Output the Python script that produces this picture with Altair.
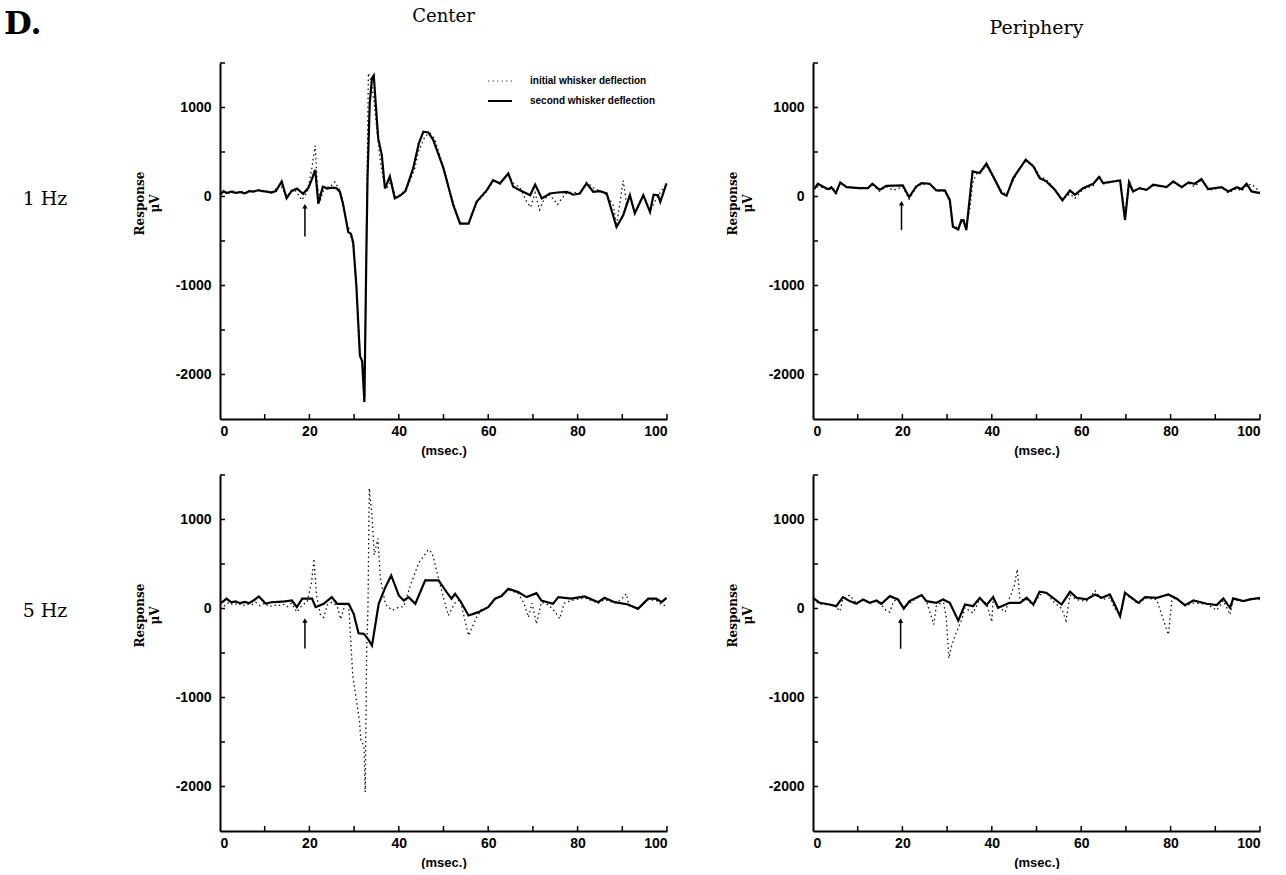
import altair as alt
import pandas as pd

# ---------------- data ----------------
# 1 Hz, Center
c1_sec_t = [0, 0.8, 1.5, 2.5, 3.5, 4.5, 5.5, 6.5, 7.5, 8.5, 9.5, 10.5, 11.5, 12.5, 13.8, 14.9, 16, 17.2, 18.6,
            19.8, 20.6, 21.3, 22, 23, 24, 25, 26, 26.8, 27.5, 28, 28.7, 29.3, 29.8, 30.5, 31.3, 31.8, 32.3, 32.7,
            33.0, 33.5, 34.0, 34.4, 34.9, 35.4, 36.2, 36.9, 38, 39.1, 40.3, 41.5, 43.2, 44.5, 45.5, 46.6, 47.7, 50,
            52.2, 53.7, 55.6, 57.4, 59.7, 61.1, 62.6, 64.5, 65.6, 67.1, 69.4, 70.5, 72, 73.8, 75.5, 77.6, 79, 80.5,
            82, 83.5, 85, 86.5, 88.7, 90.2, 91.7, 92.8, 94.7, 96.2, 97, 98, 98.5, 99.9]
c1_sec_v = [20, 60, 40, 55, 40, 50, 35, 60, 55, 70, 60, 55, 45, 60, 170, -20, 60, 90, 30,
            100, 200, 300, -80, 110, 90, 100, 95, 55, -80, -210, -400, -420, -520, -1000, -1790, -1850, -2310, -800,
            200, 1050, 1330, 1360, 1000, 650, 465, 90, 225, -20, 10, 60, 315, 600, 729, 720, 635, 316,
            -98, -304, -304, -60, 71, 184, 146, 259, 109, 71, 15, 135, -22, 34, 45, 53, 20, 34,
            147, 53, 60, 34, -342, -210, 15, -190, 15, -173, 20, 15, -60, 147]
c1_ini_t = [0, 1, 2, 3, 4, 5, 6, 7, 8, 9, 10, 11, 12, 13.5, 15, 16, 17, 18.3, 19.5, 20.5, 21.3, 21.8, 22.5, 23.5,
            24.5, 25.7, 26.8, 27.5, 28.3, 29, 29.8, 30.5, 31.3, 32, 32.4, 32.8, 33.2, 33.8, 34.5, 35.2, 35.8, 36.5,
            37.3, 38.3, 39.2, 40.5, 42, 43.5, 44.4, 45.9, 47, 48, 50, 52.2, 53.7, 55.6, 57.4, 59.7, 61.1, 62.6, 64.5,
            65.6, 67.1, 68.5, 69.5, 70.5, 71.5, 72.5, 73.8, 75.5, 76.5, 77.6, 79, 80.5, 82, 83.5, 85, 86.5, 88, 88.7,
            90.2, 91, 91.7, 92.8, 94.7, 96.2, 98, 99.9]
c1_ini_v = [30, 50, 40, 60, 45, 55, 40, 70, 60, 80, 60, 50, 60, 130, 0, 70, 60, -41, 50, 300, 571, 100, -30, 120,
            100, 165, 70, -50, -300, -380, -550, -950, -1750, -1950, -2250, -200, 1387, 1300, 1050, 700, 428, 200,
            90, 170, 0, 20, 120, 300, 504, 680, 710, 650, 330, -80, -290, -310, -70, 60, 170, 160, 240,
            150, 100, -50, -120, 40, -150, -30, 20, -90, -20, 40, 50, 34, 160, 100, 60, 20, -100, -330,
            180, -100, 0, -180, 20, -160, 10, 140]

# 1 Hz, Periphery
p1_sec_t = [0, 0.4, 1.1, 2.2, 3.4, 4.1, 5.1, 6.1, 7.5, 10.4, 12.3, 13.3, 14.9, 16.4, 20.1, 21.5, 23.1, 24.3, 26.1,
            27.6, 29.5, 30.6, 31.3, 32.5, 33.2, 33.7, 34.3, 35.7, 37.3, 38.8, 40.3, 42.2, 43.3, 44.8, 47.6, 49.3,
            50.7, 52.2, 54.1, 55.8, 57.5, 58.6, 60.4, 62.7, 64, 64.9, 68.7, 69.8, 70.7, 71.6, 73.1, 74.6, 76.1,
            79.1, 80.6, 82.5, 84, 85.4, 86.9, 88.4, 91.4, 92.9, 94.8, 95.9, 97, 98.1, 100]
p1_sec_v = [90, 94, 143, 113, 83, 105, 38, 158, 105, 94, 94, 143, 75, 120, 124, -8, 113, 151, 143,
            68, 68, -38, -339, -369, -264, -271, -377, 283, 264, 369, 226, 38, 8, 207, 415, 339,
            207, 170, 75, -45, 68, 19, 94, 143, 219, 151, 181, -264, 158, 57, 94, 75, 132,
            105, 170, 105, 158, 143, 196, 83, 105, 57, 105, 83, 143, 57, 38]
p1_ini_t = [0, 1, 2.2, 3.4, 4.5, 5.3, 6.1, 7.5, 9, 10.4, 12.3, 13.3, 14.9, 16.4, 18, 20.1, 21.5, 23.1, 24.3, 26.1,
            27.6, 29.5, 30.6, 31.3, 32.5, 33.2, 33.7, 34.3, 35.2, 35.7, 36.5, 37.3, 38.8, 40.3, 42.2, 43.3, 44.8,
            46, 47.6, 49.3, 50.7, 52.2, 54.1, 55.8, 57.5, 58.6, 60.4, 62.7, 64, 64.9, 66.5, 68.7, 69.8, 70.7, 71.6,
            73.1, 74.6, 76.1, 79.1, 80.6, 82.5, 84, 85.4, 86.9, 88.4, 91.4, 92.9, 94.8, 95.9, 97, 98.1, 100]
p1_ini_v = [80, 110, 100, 70, 95, 40, 150, 110, 100, 90, 100, 130, 60, 110, 70, 110, -30, 100, 140, 140,
            60, 60, -60, -320, -360, -280, -260, -350, -100, 150, 250, 280, 340, 220, 60, 20, 180,
            300, 400, 350, 230, 190, 80, -30, 30, -20, 80, 120, 240, 140, 160, 190, -200, 190, 60,
            90, 70, 120, 110, 160, 100, 150, 110, 190, 70, 100, 40, 90, 60, 120, 140, 50]

# 5 Hz, Center
c5_sec_t = [0, 0.5, 1.5, 2.5, 3.5, 4.5, 5.5, 6.5, 7.5, 8.7, 10.2, 11.5, 13, 14.5, 16.1, 17.2, 18.4, 20.6, 21.4,
            23.2, 25, 26.2, 28.8, 29.9, 31, 32.2, 33.2, 34, 35.5, 37, 38.3, 40, 41.1, 42.2, 43.7, 45.9, 48.9, 50.7,
            51.8, 52.6, 53.7, 55.6, 57.8, 60, 61.5, 63, 64.5, 66.7, 68.6, 70.8, 71.9, 74.5, 75.7, 78.6, 81.6, 84.6,
            86, 88.3, 91.3, 93.5, 95.8, 97.6, 98.8, 99.9]
c5_sec_v = [70, 71, 110, 70, 80, 60, 75, 60, 90, 135, 55, 70, 75, 80, 90, 15, 110, 110, 15,
            53, 128, 53, 53, -60, -278, -285, -350, -417, 53, 240, 372, 146, 90, 128, 53, 316, 316, 184,
            110, 165, 90, -79, -41, 15, 110, 140, 222, 184, 128, 172, 90, 53, 128, 110, 135, 71,
            120, 71, 45, -4, 110, 110, 71, 120]
c5_ini_t = [0, 1, 2, 3, 4, 5, 6, 7, 8, 9, 10, 11, 12, 13, 14, 15, 16, 17.2, 18.4, 19.5, 20.5, 21.0, 21.6, 22.5,
            23.2, 24, 25, 26.2, 27, 28, 28.8, 29.4, 29.7, 30.6, 31.2, 31.5, 32.2, 32.5, 32.8, 33.1, 33.4, 34, 34.5,
            35.3, 35.9, 37, 38.5, 40, 41.1, 42.6, 44.4, 46.6, 47.5, 48.9, 50, 51.1, 52.5, 53.7, 55.6, 57.4, 58.5,
            60, 61.5, 64.5, 66.7, 68, 69, 69.8, 70.8, 71.9, 73.5, 75, 76, 77, 78.6, 81.6, 84.6, 86, 88.3, 89.5,
            90.9, 91.5, 93.5, 95.8, 97.6, 98.8, 99.9]
c5_ini_v = [60, 30, 70, 40, 60, 30, 50, 40, 70, 30, 60, 20, 40, 30, 50, 20, 60, -40, 40, 70, 300, 560, 150, -79,
            -100, 40, 70, 30, -120, 50, 40, -490, -755, -1056, -1263, -1470, -1550, -2063, -500, 0, 1350, 1050, 600,
            785, 335, 50, -20, 15, 20, 260, 504, 662, 620, 335, 120, -79, 60, 100, -304, -98, -10,
            10, 100, 210, 170, 60, -98, 60, -173, 70, 40, -40, -116, 60, 90, 120, 60, 100, 60, 90,
            165, 30, 0, 100, 90, 40, 30]

# 5 Hz, Periphery
p5_sec_t = [0, 1.5, 3.7, 5.2, 6.7, 8.2, 9.7, 11.2, 12.7, 14.2, 15.3, 17.2, 19, 20.3, 21.6, 24.3, 25.4, 27.6, 29.1,
            30.6, 32.5, 34, 35.8, 37.3, 38.8, 40.3, 41.4, 44, 46.3, 47.8, 49.3, 50.7, 52.2, 53.7, 55.6, 57.5, 59,
            61.2, 63.1, 64.6, 66.4, 67.5, 68.7, 69.8, 71.3, 72.8, 74.3, 76.9, 79.5, 81.3, 83.2, 85.1, 88.1, 90.3,
            91.8, 93.3, 94, 96.3, 97.8, 100]
p5_sec_v = [120, 64, 45, 26, 128, 83, 53, 102, 64, 90, 53, 139, 102, 0, 83, 151, 83, 64, 102,
            64, -136, 45, 26, 120, 38, 128, 8, 64, 64, 120, 45, 188, 177, 120, 45, 188, 120,
            102, 158, 120, 158, 45, -87, 177, 120, 64, 128, 120, 158, 113, 38, 90, 53, 38,
            113, 8, 113, 83, 102, 120]
p5_ini_t = [0, 1.5, 3.7, 5.2, 6, 6.7, 8.2, 9.7, 11.2, 12.7, 14.2, 15.3, 16.3, 17.2, 18, 19, 20.3, 21.6, 23, 24.3,
            25.4, 27, 27.6, 28.5, 29.1, 29.8, 30.4, 31, 31.8, 32.5, 33.3, 34, 35.8, 37.3, 38.8, 40, 40.3, 41.4, 43,
            44, 45, 45.7, 46.3, 47.8, 49.3, 50.7, 52.2, 53.7, 55.6, 56.6, 57.5, 59, 61.2, 63.1, 64.6, 66.4, 67.5,
            68.7, 69.8, 71.3, 72.8, 74.3, 76.9, 79.5, 80.3, 81.3, 83.2, 85.1, 88.1, 90.3, 91.8, 93.3, 94, 96.3,
            97.8, 100]
p5_ini_v = [100, 50, 40, 20, -30, 110, 150, 60, 90, 60, 80, 40, -20, -40, 80, 110, 10, 60, 110, 140,
            80, -180, 30, 60, 100, -100, -560, -420, -300, -218, -120, 10, -50, 100, 60, -150, 110, 30, -40,
            120, 250, 440, 100, 100, 30, 150, 180, 80, 0, -136, 150, 100, 80, 200, 100, 120, 0,
            -60, 160, 110, 50, 120, 100, -294, 100, 120, 30, 60, 50, -20, 90, -70, 100, 80,
            110, 100]

# stimulus arrows: time, tip value, tail value
arrows = {
    "c1": (19.0, -110, -450),
    "p1": (19.8, -75, -377),
    "c5": (19.0, -135, -450),
    "p5": (19.6, -136, -452),
}

x_label_values = [0, 20, 40, 60, 80, 100]
x_tick_values = [10, 20, 30, 40, 50, 60, 70, 80, 90, 100]
y_label_values = [-2000, -1000, 0, 1000]
y_tick_values = [-2000, -1500, -1000, -500, 0, 500, 1000, 1500]
legend_labels = ["initial whisker deflection", "second whisker deflection"]

# ---------------- styling ----------------
W, H = 447, 356
NUM_FONT = "Liberation Sans Narrow, Liberation Sans, Arial, sans-serif"
SERIF = "DejaVu Serif"

xs = alt.Scale(domain=[0, 100], nice=False, zero=False)
ys = alt.Scale(domain=[-2500, 1500], nice=False, zero=False)

x_axis = alt.Axis(values=x_label_values, ticks=False, grid=False, domainColor="black", domainWidth=2,
                  labelFont=NUM_FONT, labelFontSize=14, labelFontWeight="bold", labelColor="black",
                  labelPadding=5, labelExpr="'' + datum.value",
                  title="(msec.)", titleFont=NUM_FONT, titleFontSize=13, titleFontWeight="bold",
                  titleColor="black", titlePadding=6)
y_axis = alt.Axis(values=y_label_values, ticks=False, grid=False, domainColor="black", domainWidth=2,
                  labelFont=NUM_FONT, labelFontSize=14, labelFontWeight="bold", labelColor="black",
                  labelPadding=9, labelExpr="'' + datum.value",
                  title=["Response", "μV"], titleFont=SERIF, titleFontSize=12, titleFontWeight="bold",
                  titleColor="black", titlePadding=14, titleY=140, titleLineHeight=15)


def panel(sec_t, sec_v, ini_t, ini_v, arrow, row_label=None, legend=False, dlabel=False, title=None):
    ini_df = pd.DataFrame({"t": ini_t, "v": ini_v})
    sec_df = pd.DataFrame({"t": sec_t, "v": sec_v})
    X = alt.X("t:Q", scale=xs, axis=x_axis)
    Y = alt.Y("v:Q", scale=ys, axis=y_axis)

    ini = alt.Chart(ini_df).mark_line(color="#111", strokeWidth=1.3, strokeDash=[1.5, 3]).encode(x=X, y=Y)
    sec = alt.Chart(sec_df).mark_line(color="black", strokeWidth=2.2).encode(x=X, y=Y)

    a_df = pd.DataFrame({"t": [arrow[0]], "v": [arrow[1]], "v2": [arrow[2]]})
    a_rule = alt.Chart(a_df).mark_rule(color="black", strokeWidth=1.5).encode(
        x=X, y=Y, y2="v2:Q")
    a_head = alt.Chart(a_df).mark_point(shape="triangle-up", filled=True, color="black", size=28,
                                        opacity=1).encode(x=X, y=Y)

    xt = alt.Chart(pd.DataFrame({"t": x_tick_values})).mark_rule(color="black", strokeWidth=1.5).encode(
        x=X, y=alt.value(H), y2=alt.value(H - 5))
    yt = alt.Chart(pd.DataFrame({"v": y_tick_values})).mark_rule(color="black", strokeWidth=1.5).encode(
        y=Y, x=alt.value(0), x2=alt.value(5))

    layers = [ini, sec, a_rule, a_head, xt, yt]

    if legend:
        ldf = pd.DataFrame({"label": legend_labels})
        l_ini = alt.Chart(ldf.iloc[[0]]).mark_rule(color="#555", strokeWidth=1.2, strokeDash=[1.5, 3]).encode(
            x=alt.value(268), x2=alt.value(292), y=alt.value(18))
        l_sec = alt.Chart(ldf.iloc[[1]]).mark_rule(color="black", strokeWidth=2).encode(
            x=alt.value(268), x2=alt.value(292), y=alt.value(38))
        l_t1 = alt.Chart(ldf.iloc[[0]]).mark_text(align="left", baseline="middle", font="Liberation Sans",
                                                  fontSize=10, fontWeight="bold", color="black").encode(
            x=alt.value(310), y=alt.value(18), text="label:N")
        l_t2 = alt.Chart(ldf.iloc[[1]]).mark_text(align="left", baseline="middle", font="Liberation Sans",
                                                  fontSize=10, fontWeight="bold", color="black").encode(
            x=alt.value(310), y=alt.value(38), text="label:N")
        layers += [l_ini, l_sec, l_t1, l_t2]

    if row_label is not None:
        rdf = pd.DataFrame({"label": [row_label]})
        layers.append(alt.Chart(rdf).mark_text(align="center", baseline="middle", font=SERIF, fontSize=19,
                                               color="black").encode(
            x=alt.value(-175), y=alt.value(136), text="label:N"))

    if dlabel:
        # panel label, placed relative to the bottom-left panel (its top sits 412 px below the top row's)
        ddf = pd.DataFrame({"label": ["D."]})
        layers.append(alt.Chart(ddf).mark_text(align="left", baseline="top", font=SERIF, fontSize=32,
                                               fontWeight="bold", color="black").encode(
            x=alt.value(-216), y=alt.value(-466), text="label:N"))

    props = dict(width=W, height=H)
    if title is not None:
        props["title"] = title
    return alt.layer(*layers).properties(**props)


t_center = alt.TitleParams("Center", font=SERIF, fontSize=18, fontWeight="normal", color="black",
                           frame="group", anchor="middle", offset=36)
t_periph = alt.TitleParams("Periphery", font=SERIF, fontSize=19, fontWeight="normal", color="black",
                           frame="group", anchor="middle", offset=24)

tl = panel(c1_sec_t, c1_sec_v, c1_ini_t, c1_ini_v, arrows["c1"], row_label="1 Hz", legend=True,
           title=t_center)
tr = panel(p1_sec_t, p1_sec_v, p1_ini_t, p1_ini_v, arrows["p1"], title=t_periph)
bl = panel(c5_sec_t, c5_sec_v, c5_ini_t, c5_ini_v, arrows["c5"], row_label="5 Hz", dlabel=True)
br = panel(p5_sec_t, p5_sec_v, p5_ini_t, p5_ini_v, arrows["p5"])

chart = alt.concat(tl, tr, bl, br, columns=2, spacing={"row": 56, "column": 146}, bounds="flush").properties(
    padding={"left": 4, "top": 8, "right": 0, "bottom": 0}, background="white"
).configure_view(stroke=None)

chart.save("out.html", embed_options={"renderer": "svg", "actions": False})
